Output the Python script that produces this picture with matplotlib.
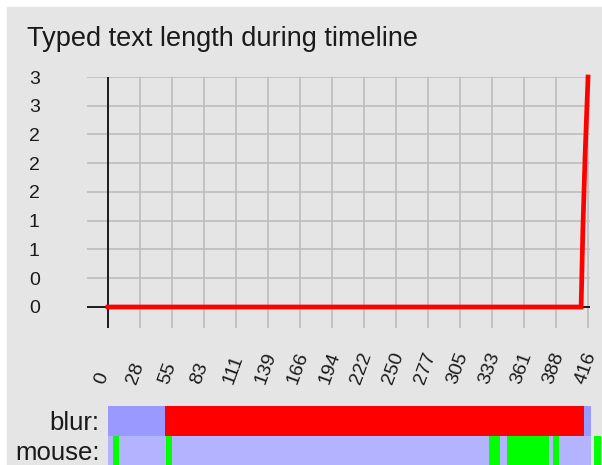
import numpy as np
import matplotlib.pyplot as plt
import matplotlib.transforms as mtransforms
from matplotlib.patches import Rectangle

plt.rcParams['font.family'] = ['Liberation Sans', 'DejaVu Sans']

# typed text length over the timeline (seconds)
times = [0, 410, 411.5, 413.5, 416]
lengths = [0, 0, 1, 2, 3]

x_ticks = np.linspace(0, 416, 16)
x_tick_labels = ['0', '28', '55', '83', '111', '139', '166', '194', '222',
                 '250', '277', '305', '333', '361', '388', '416']
y_ticks = np.linspace(0, 3, 9)
y_tick_labels = ['0', '0', '1', '1', '2', '2', '2', '3', '3']

# blur row: window focus state per interval
blur_start = [0, 49.4, 412.5]
blur_end = [49.4, 412.5, 418.6]
blur_state = ['focus', 'blur', 'focus']

# mouse row: base span plus mouse activity intervals
mouse_span = (0, 418.6)
mouse_start = [4.3, 50.3, 330.2, 345.8, 385.7, 421.2]
mouse_end = [9.5, 55.5, 339.7, 382.2, 390.9, 427.3]

W, H = 602, 465
bg = '#e5e5e5'
fig = plt.figure(figsize=(W/100, H/100), dpi=100)
fig.set_facecolor('white')
fig.patches.append(Rectangle((7/W, 0), 1, (H-7)/H, transform=fig.transFigure,
                             color=bg, zorder=-10))

fig.text(27/W, 1-46/H, 'Typed text length during timeline', fontsize=19.5,
         ha='left', va='baseline', color='#1a1a1a')

# main chart
ax = fig.add_axes([87/W, 1-328/H, (590-87)/W, (328-77)/H])
ax.set_facecolor(bg)
ax.set_xlim(-18.2, 417.7)
ax.set_ylim(-0.274, 3.0)
for s in ax.spines.values():
    s.set_visible(False)
ax.grid(color='#bdbdbd', linewidth=1.2)
ax.set_axisbelow(True)
ax.axvline(0, color='black', linewidth=1.2, zorder=2)
ax.axhline(0, color='black', linewidth=1.2, zorder=2)
ax.plot(times, lengths, color='red', linewidth=3.4, zorder=3,
        clip_on=False, solid_joinstyle='miter')

ax.set_yticks(y_ticks)
ax.set_yticklabels(y_tick_labels, fontsize=14, color='#1a1a1a')
ax.tick_params(axis='y', length=0, pad=34)
ax.set_xticks(x_ticks)
ax.set_xticklabels(x_tick_labels, fontsize=14, rotation=70, color='#1a1a1a',
                   rotation_mode='anchor', ha='left', va='center')
ax.tick_params(axis='x', length=0, pad=40)
shift = mtransforms.ScaledTranslation(-8/100, 0, fig.dpi_scale_trans)
for lab in ax.get_xticklabels():
    lab.set_transform(lab.get_transform() + shift)

# timeline bars
bx = fig.add_axes([108/W, 0, (W-108)/W, (465-406)/H])
bx.patch.set_alpha(0)
bx.set_xlim(0, (W-108)/1.1538)
bx.set_ylim(0, 2)
for s in bx.spines.values():
    s.set_visible(False)
blur_colors = {'focus': '#9999ff', 'blur': '#ff0000'}
for s0, s1, st in zip(blur_start, blur_end, blur_state):
    bx.broken_barh([(s0, s1-s0)], (1, 1), facecolor=blur_colors[st], edgecolor='none')
bx.broken_barh([(mouse_span[0], mouse_span[1]-mouse_span[0])], (0, 1),
               facecolor='#b3b3ff', edgecolor='none')
bx.broken_barh([(a, b-a) for a, b in zip(mouse_start, mouse_end)], (0, 1),
               facecolor='#00ff00', edgecolor='none')
bx.set_xticks([])
bx.set_yticks([0.5, 1.5])
bx.set_yticklabels(['mouse:', 'blur:'], fontsize=18.5, color='#1a1a1a')
bx.tick_params(axis='y', length=0, pad=6)

fig.savefig('out.png', dpi=100)
